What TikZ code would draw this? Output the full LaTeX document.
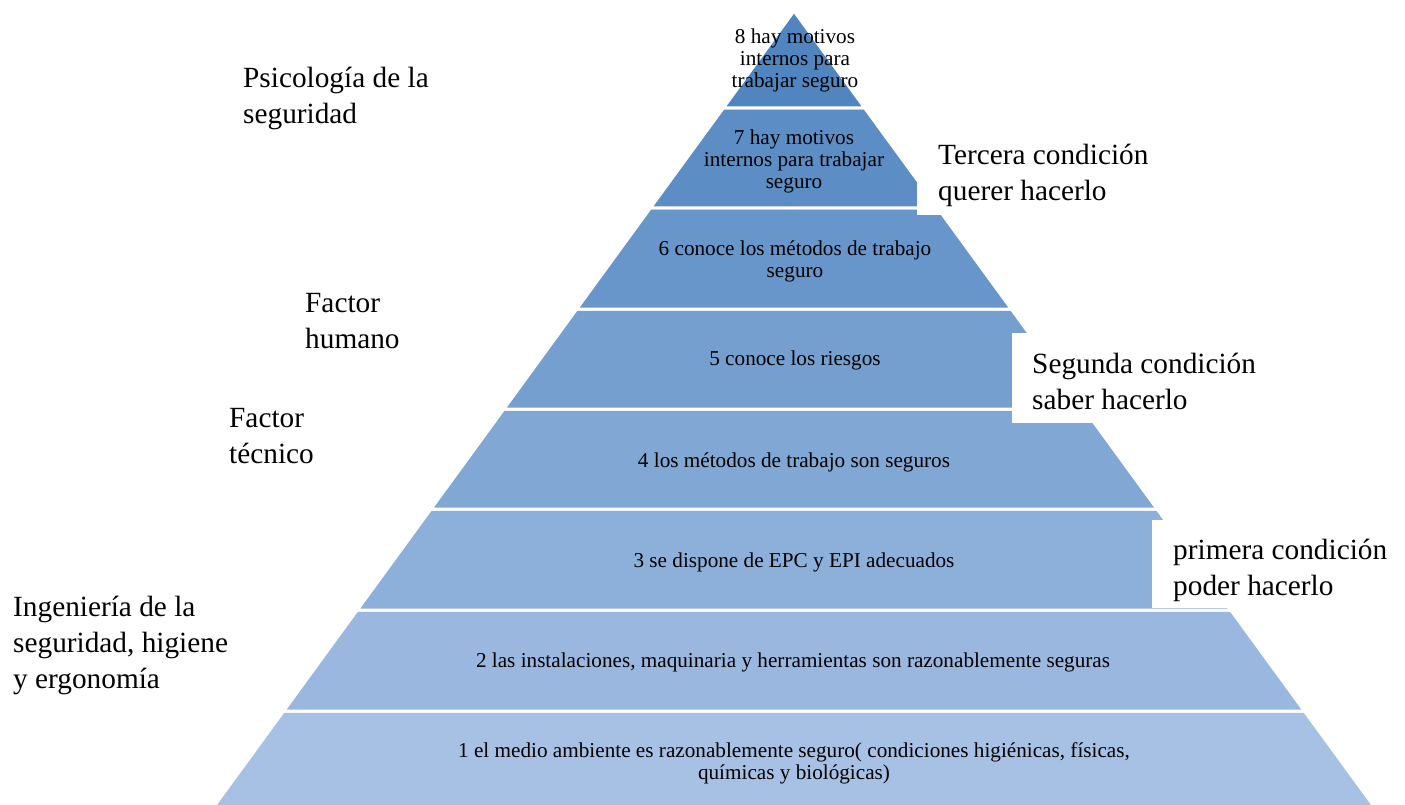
\documentclass[tikz,border=0pt]{standalone}
\usepackage{fontspec}
\setmainfont{Liberation Serif}
\definecolor{c8}{HTML}{5085C0}
\definecolor{c7}{HTML}{5C8EC5}
\definecolor{c6}{HTML}{6896CA}
\definecolor{c5}{HTML}{759FCF}
\definecolor{c4}{HTML}{81A7D4}
\definecolor{c3}{HTML}{8DB0DA}
\definecolor{c2}{HTML}{9AB8DF}
\definecolor{c1}{HTML}{A6C1E4}
\tikzset{
  layer/.style={draw=white, line width=3pt, line join=miter},
  ltext/.style={align=center, inner sep=0pt, font=\fontsize{21.2}{22}\selectfont},
  label/.style={align=left, anchor=west, inner sep=0pt, font=\fontsize{29.3}{36}\selectfont},
  cover/.style={fill=white, draw=none}
}
\begin{document}
\begin{tikzpicture}[x=1pt,y=-1pt]
\useasboundingbox (0,0) rectangle (1405,805);
\fill[white] (0,0) rectangle (1405,805);
\begin{scope}
\clip (0,0) rectangle (1405,805);
% layers (bottom to top)
\path[layer, fill=c1] (283.6,711) -- (1304.4,711) -- (1378.1,812) -- (209.9,812) -- cycle;
\path[layer, fill=c2] (357.2,610) -- (1230.8,610) -- (1304.4,711) -- (283.6,711) -- cycle;
\path[layer, fill=c3] (430.9,509) -- (1157.1,509) -- (1230.8,610) -- (357.2,610) -- cycle;
\path[layer, fill=c4] (503.8,409) -- (1084.2,409) -- (1157.1,509) -- (430.9,509) -- cycle;
\path[layer, fill=c5] (576.7,309) -- (1011.3,309) -- (1084.2,409) -- (503.8,409) -- cycle;
\path[layer, fill=c6] (650.3,208) -- (937.7,208) -- (1011.3,309) -- (576.7,309) -- cycle;
\path[layer, fill=c7] (723.3,108) -- (864.7,108) -- (937.7,208) -- (650.3,208) -- cycle;
\path[layer, fill=c8] (794,11) -- (864.7,108) -- (723.3,108) -- cycle;
\end{scope}
% white boxes behind the condition labels
\path[cover] (917,120) rectangle (1160,215);
\path[cover] (1012,333) rectangle (1275,423);
\path[cover] (1152,520) rectangle (1400,608);
% layer texts
\node[ltext] (t8) at (795,60) {8 hay motivos\\internos para\\trabajar seguro};
\node[ltext] (t7) at (794,161) {7 hay motivos\\internos para trabajar\\seguro};
\node[ltext] (t6) at (795,261.5) {6 conoce los métodos de trabajo\\seguro};
\node[ltext] (t5) at (795,360) {5 conoce los riesgos};
\node[ltext] (t4) at (794,462) {4 los métodos de trabajo son seguros};
\node[ltext] (t3) at (794,562) {3 se dispone de EPC y EPI adecuados};
\node[ltext] (t2) at (793,662) {2 las instalaciones, maquinaria y herramientas son razonablemente seguras};
\node[ltext] (t1) at (794,763) {1 el medio ambiente es razonablemente seguro( condiciones higiénicas, físicas,\\químicas y biológicas)};
% left labels
\node[label] (psi) at (243,98) {Psicología de la\\seguridad};
\node[label] (hum) at (305,321) {Factor\\humano};
\node[label] (tec) at (229,436) {Factor\\técnico};
\node[label] (ing) at (13,645) {Ingeniería de la\\seguridad, higiene\\y ergonomía};
% right labels
\node[label] (ter) at (938,175) {Tercera condición\\querer hacerlo};
\node[label] (seg) at (1032,381) {Segunda condición\\saber hacerlo};
\node[label] (pri) at (1173,570) {primera condición\\poder hacerlo};
\end{tikzpicture}
\end{document}
